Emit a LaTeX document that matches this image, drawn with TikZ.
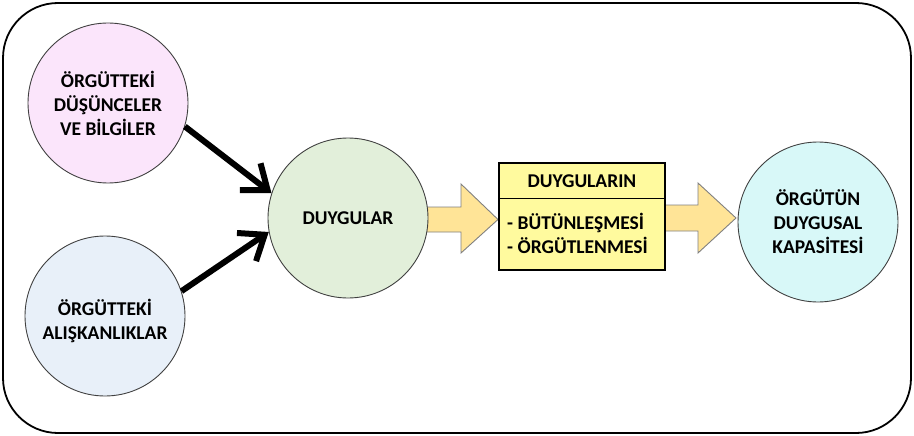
\documentclass[tikz,border=0pt]{standalone}
\usepackage{fontspec}
\setmainfont{Carlito}
\usetikzlibrary{arrows.meta,calc}
\definecolor{pinkfill}{HTML}{FBE5FB}
\definecolor{bluefill}{HTML}{E8F0F9}
\definecolor{greenfill}{HTML}{E2EFDA}
\definecolor{cyanfill}{HTML}{D8F8F8}
\definecolor{boxfill}{HTML}{FFFA9E}
\definecolor{blockfill}{HTML}{FFE497}
\definecolor{blockedge}{HTML}{808080}
\definecolor{ringedge}{HTML}{404040}
\tikzset{
  bubble/.style={circle, draw=ringedge, line width=0.9pt, minimum size=160pt,
    inner sep=0pt, align=center, font=\bfseries\fontsize{19.5}{24}\selectfont},
  flowarrow/.style={line width=6pt, -{Straight Barb[length=22pt,width=34pt,line width=6pt]}},
  blockarrow/.style={fill=blockfill, draw=blockedge, line width=0.9pt, line join=miter},
  labeltext/.style={font=\bfseries\fontsize{19.5}{24}\selectfont, inner sep=0pt}
}
\begin{document}
\begin{tikzpicture}[x=1pt,y=-1pt]
  \useasboundingbox (0,0) rectangle (914,436);
  % outer frame
  \draw[line width=1.8pt, rounded corners=55pt] (3,3) rectangle (911,433);

  % wide arrows leading through the summary box
  \draw[blockarrow] (425,207) -- (461,207) -- (461,184) -- (498,219.5)
    -- (461,253) -- (461,232) -- (425,232) -- cycle;
  \draw[blockarrow] (660,205) -- (698,205) -- (698,183) -- (736,218)
    -- (698,253) -- (698,231) -- (660,231) -- cycle;

  % circles
  \node[bubble, fill=pinkfill] (thoughts) at (108,103) {ÖRGÜTTEKİ\\DÜŞÜNCELER\\VE BİLGİLER};
  \node[bubble, fill=bluefill] (habits) at (105,316) {};
  \node[labeltext, align=center] (habitstext) at (105,321) {ÖRGÜTTEKİ\\ALIŞKANLIKLAR};
  \node[bubble, fill=greenfill] (feelings) at (348,218) {DUYGULAR};
  \node[bubble, fill=cyanfill] (capacity) at (818,222) {ÖRGÜTÜN\\DUYGUSAL\\KAPASİTESİ};

  % summary box
  \node[draw, fill=boxfill, line width=1.5pt, minimum width=166pt, minimum height=107pt,
        inner sep=0pt] (box) at (582,216.5) {};
  \draw[line width=1pt] (box.west |- 0,198) -- (box.east |- 0,198);
  \node[labeltext] (boxhead) at (582,181) {DUYGULARIN};
  \node[labeltext, anchor=west, align=left] (boxlist) at (507,233)
    {- BÜTÜNLEŞMESİ\\- ÖRGÜTLENMESİ};

  % inputs into the feelings circle
  \draw[flowarrow] (thoughts.-17) -- (feelings.162);
  \draw[flowarrow] (habits.18) -- (feelings.190);
\end{tikzpicture}
\end{document}
